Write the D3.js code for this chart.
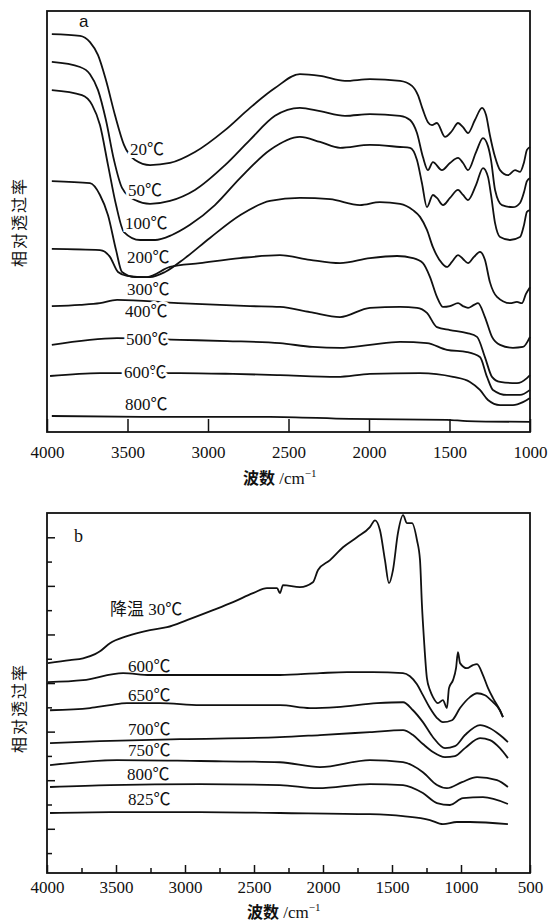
<!DOCTYPE html>
<html>
<head>
<meta charset="utf-8">
<script src="https://cdn.jsdelivr.net/npm/d3@7"></script>
<style>
    body { margin: 0; background: #fff; }
    .tick text { font-family: "Liberation Serif", serif; font-size: 17px; fill: #111; }
    .curve-label { font-family: "Liberation Serif", "Noto Sans CJK SC", serif; font-size: 17px; fill: #111; }
    .axis-title { font-size: 16px; fill: #111; }
    .y-title { font-family: "Noto Sans CJK SC", sans-serif; font-size: 16px; letter-spacing: 2px; fill: #111; }
</style>
</head>
<body>
<svg id="spectra"></svg>
<script>
// Panel a: spectra while heating, [wavenumber cm-1, relative transmittance]
const a20 = [[3970, 94.5], [3795, 94.1], [3733, 92.6], [3683, 89.5], [3634, 83.6], [3578, 75.3], [3522, 68.2], [3453, 64.6], [3360, 63.4], [3236, 63.9], [3081, 66.5], [2894, 71.7], [2739, 77.0], [2584, 81.7], [2429, 85.0], [2304, 84.6], [2149, 83.4], [1994, 83.8], [1807, 83.4], [1733, 82.2], [1696, 80.0], [1665, 76.5], [1634, 73.6], [1609, 72.9], [1578, 73.4], [1528, 70.1], [1485, 71.5], [1447, 73.4], [1416, 72.4], [1385, 71.0], [1342, 74.1], [1298, 77.0], [1273, 75.3], [1249, 70.5], [1217, 65.3], [1186, 62.2], [1137, 61.0], [1093, 62.2], [1062, 61.8], [1037, 64.1], [1019, 67.0], [1000, 67.7]];
const a50 = [[3970, 87.9], [3795, 86.7], [3733, 85.0], [3683, 81.2], [3634, 74.1], [3584, 64.6], [3534, 58.0], [3453, 55.1], [3360, 54.2], [3236, 54.9], [3081, 57.5], [2894, 63.4], [2739, 69.4], [2584, 75.1], [2429, 77.0], [2304, 76.2], [2149, 75.1], [1994, 75.5], [1807, 75.1], [1745, 74.1], [1702, 71.0], [1665, 65.3], [1634, 62.2], [1603, 64.1], [1547, 62.2], [1497, 63.9], [1447, 65.1], [1416, 63.9], [1385, 62.2], [1335, 66.5], [1292, 69.8], [1261, 67.9], [1242, 64.6], [1217, 57.5], [1174, 53.9], [1106, 53.4], [1062, 54.4], [1037, 57.0], [1019, 59.6], [1000, 60.3]];
const a100 = [[3970, 81.2], [3783, 80.0], [3720, 77.7], [3671, 72.9], [3621, 63.4], [3571, 53.9], [3522, 47.5], [3422, 45.6], [3329, 45.6], [3224, 46.8], [3112, 49.2], [2957, 53.9], [2801, 60.3], [2615, 67.0], [2429, 70.1], [2304, 68.9], [2180, 67.5], [1994, 68.2], [1807, 67.7], [1745, 67.5], [1702, 64.6], [1671, 59.1], [1640, 53.4], [1603, 56.3], [1578, 55.6], [1540, 53.9], [1497, 55.6], [1447, 57.5], [1416, 56.3], [1385, 55.1], [1335, 58.7], [1292, 62.7], [1261, 60.6], [1242, 56.3], [1217, 49.6], [1186, 46.3], [1124, 45.6], [1062, 46.3], [1037, 49.2], [1019, 52.3], [1000, 52.7]];
const a200 = [[3970, 59.6], [3733, 59.1], [3671, 56.3], [3621, 51.5], [3571, 43.2], [3534, 38.0], [3453, 36.8], [3360, 36.8], [3267, 38.0], [3143, 41.3], [2988, 46.1], [2801, 51.5], [2615, 54.9], [2429, 55.6], [2242, 55.3], [2056, 53.9], [1932, 54.6], [1807, 54.2], [1727, 52.7], [1683, 51.1], [1640, 48.0], [1603, 43.9], [1547, 40.1], [1516, 39.2], [1485, 40.4], [1447, 42.0], [1416, 41.1], [1385, 40.1], [1348, 41.6], [1311, 42.8], [1280, 40.9], [1249, 35.6], [1205, 32.1], [1124, 30.6], [1081, 30.9], [1050, 30.6], [1025, 32.8], [1000, 34.4]];
const a300 = [[3970, 43.5], [3671, 43.2], [3609, 41.6], [3559, 38.0], [3503, 37.1], [3379, 36.8], [3236, 39.2], [3050, 40.1], [2801, 41.3], [2553, 42.0], [2367, 40.9], [2180, 40.1], [1994, 41.3], [1826, 41.8], [1727, 41.3], [1665, 40.1], [1621, 36.8], [1578, 32.1], [1540, 29.7], [1497, 29.9], [1447, 30.6], [1416, 29.9], [1385, 29.5], [1348, 30.2], [1323, 30.6], [1280, 27.3], [1236, 22.6], [1186, 20.7], [1106, 20.0], [1044, 20.2], [1000, 22.6]];
const a400 = [[3970, 29.9], [3795, 30.2], [3671, 30.6], [3565, 31.4], [3186, 30.6], [2739, 29.9], [2553, 29.7], [2367, 28.5], [2180, 27.3], [1994, 29.5], [1807, 29.7], [1702, 29.5], [1640, 28.3], [1578, 24.9], [1497, 24.2], [1391, 23.5], [1329, 22.6], [1280, 17.8], [1236, 13.1], [1186, 11.9], [1081, 11.6], [1019, 12.8], [1000, 13.5]];
const a500 = [[3970, 20.7], [3565, 22.3], [3174, 21.9], [2882, 21.6], [2553, 21.1], [2348, 20.2], [2180, 20.0], [1994, 20.7], [1807, 21.4], [1640, 21.1], [1516, 19.5], [1391, 19.0], [1311, 17.8], [1267, 13.1], [1230, 10.0], [1143, 8.8], [1062, 8.8], [1000, 10.0]];
const a600 = [[3981, 13.3], [3671, 14.0], [3565, 14.0], [3174, 14.0], [2845, 13.8], [2553, 13.5], [2199, 13.1], [1994, 13.8], [1683, 14.0], [1478, 13.1], [1373, 11.9], [1311, 10.0], [1261, 7.6], [1186, 6.4], [1106, 6.4], [1044, 7.1], [1000, 8.1]];
const a800 = [[3970, 3.8], [3360, 3.6], [2615, 3.6], [2118, 3.1], [1516, 2.9], [1391, 2.6], [1000, 2.4]];

const seriesA = [a20, a50, a100, a200, a300, a400, a500, a600, a800];
const labelsA = ["20℃", "50℃", "100℃", "200℃", "300℃", "400℃", "500℃", "600℃", "800℃"];
const labelAnchorsA = [[3485, 65.8], [3497, 56.1], [3516, 48.2], [3503, 40.1], [3503, 32.5], [3516, 27.3], [3509, 20.7], [3522, 12.8], [3516, 5.2]];
const ticksA = [4000, 3500, 3000, 2500, 2000, 1500, 1000];

// Panel b: cooled sample and spectra at high temperature
const b30 = [[3993, 7.82], [3833, 7.94], [3739, 8.02], [3652, 8.19], [3616, 8.31], [3544, 8.64], [3420, 8.93], [3254, 9.18], [3130, 9.30], [2986, 9.59], [2797, 10.0], [2652, 10.33], [2507, 10.70], [2406, 10.91], [2333, 10.91], [2312, 10.70], [2290, 11.03], [2167, 10.95], [2073, 11.15], [2036, 11.65], [1949, 12.06], [1855, 12.59], [1754, 13.0], [1660, 13.42], [1623, 13.70], [1587, 13.29], [1551, 12.06], [1522, 11.11], [1493, 11.65], [1457, 13.17], [1420, 13.91], [1391, 13.58], [1355, 13.58], [1319, 12.88], [1297, 12.06], [1283, 10.21], [1268, 8.77], [1247, 7.20], [1225, 6.71], [1203, 6.42], [1167, 6.17], [1131, 6.30], [1102, 5.97], [1087, 6.79], [1058, 7.12], [1036, 7.61], [1022, 8.27], [1007, 7.82], [957, 7.61], [913, 7.74], [884, 7.78], [841, 7.33], [804, 6.79], [768, 6.38], [718, 5.88], [696, 5.60]];
const b600 = [[3993, 7.04], [3739, 7.12], [3449, 7.41], [3254, 7.33], [2891, 7.33], [2312, 7.33], [2022, 7.41], [1826, 7.45], [1638, 7.45], [1420, 7.41], [1370, 7.28], [1319, 6.95], [1276, 6.50], [1225, 5.97], [1174, 5.56], [1131, 5.39], [1065, 5.47], [1007, 5.97], [935, 6.42], [884, 6.58], [826, 6.50], [768, 6.21], [718, 5.88], [696, 5.60]];
const b650 = [[3978, 5.88], [3688, 5.97], [3544, 6.09], [3420, 6.17], [3181, 6.17], [2891, 6.09], [2312, 6.09], [2094, 5.97], [1899, 6.01], [1609, 6.17], [1420, 6.21], [1348, 5.88], [1276, 5.39], [1203, 4.77], [1116, 4.32], [1044, 4.40], [971, 4.86], [862, 5.27], [790, 5.14], [718, 4.86], [660, 4.57]];
const b700 = [[3978, 4.53], [3616, 4.61], [3036, 4.69], [2312, 4.77], [2022, 4.86], [1660, 4.98], [1420, 5.06], [1348, 4.86], [1276, 4.49], [1203, 4.16], [1116, 3.95], [1044, 3.99], [971, 4.32], [862, 4.73], [790, 4.65], [718, 4.32], [660, 3.91]];
const b750 = [[3978, 3.62], [3493, 3.83], [2891, 3.79], [2312, 3.74], [2022, 3.54], [1660, 3.83], [1420, 3.74], [1276, 3.33], [1174, 2.80], [1102, 2.67], [993, 2.92], [884, 3.13], [739, 3.00], [660, 2.72]];
const b800 = [[3978, 2.72], [3544, 2.80], [2891, 2.84], [2312, 2.80], [2036, 2.67], [1660, 2.84], [1420, 2.80], [1276, 2.47], [1174, 2.06], [1080, 1.98], [986, 2.26], [841, 2.30], [660, 2.02]];
const b825 = [[3978, 1.65], [3544, 1.69], [2891, 1.69], [2312, 1.65], [1660, 1.60], [1420, 1.52], [1225, 1.36], [1131, 1.19], [1029, 1.28], [935, 1.28], [660, 1.19]];

const seriesB = [b30, b600, b650, b700, b750, b800, b825];
const labelsB = ["降温 30℃", "600℃", "650℃", "700℃", "750℃", "800℃", "825℃"];
const labelAnchorsB = [[3544, 9.79], [3413, 7.45], [3413, 6.26], [3413, 4.86], [3413, 3.99], [3420, 3.00], [3413, 1.98]];
const ticksB = [4000, 3500, 3000, 2500, 2000, 1500, 1000, 500];
const minorTicksB = [3750, 3250, 2750, 2250, 1750, 1250, 750];
const yTicksB = [0, 1, 2, 3, 4, 5, 6, 7, 8, 9, 10, 11, 12, 13];

// SVG setup

const width = 548, height = 923;
const ink = "#111";

const svg = d3.select("svg#spectra")
    .attr("width", width)
    .attr("height", height)
    .attr("viewBox", `0 0 ${width} ${height}`)
    .style("background-color", "#fff");

// Scales

const xA = d3.scaleLinear().domain([4000, 1000]).range([47, 530]);
const yA = d3.scaleLinear().domain([0, 100]).range([432, 11]);
const xB = d3.scaleLinear().domain([4000, 500]).range([47, 530]);
const yB = d3.scaleLinear().domain([-0.82, 14]).range([873, 513]);

function frame(x, y) {
    svg.append("rect")
        .attr("x", x.range()[0])
        .attr("y", y.range()[1])
        .attr("width", x.range()[1] - x.range()[0])
        .attr("height", y.range()[0] - y.range()[1])
        .attr("fill", "none")
        .attr("stroke", ink)
        .attr("stroke-width", 1.8);
}

function curves(series, x, y) {
    const line = d3.line()
        .x(d => x(d[0]))
        .y(d => y(d[1]))
        .curve(d3.curveMonotoneX);
    series.forEach(s => {
        svg.append("path")
            .datum(s)
            .attr("fill", "none")
            .attr("stroke", ink)
            .attr("stroke-width", 1.8)
            .attr("stroke-linejoin", "round")
            .attr("d", line);
    });
}

function curveLabels(labels, anchors, x, y, halo) {
    labels.forEach((t, i) => {
        const txt = svg.append("text")
            .attr("class", "curve-label")
            .attr("x", x(anchors[i][0]))
            .attr("y", y(anchors[i][1]))
            .text(t);
        if (halo) {
            txt.attr("stroke", "#fff")
                .attr("stroke-width", 6)
                .style("paint-order", "stroke");
        }
    });
}

function xTitle(xPos, yPos) {
    const t = svg.append("text")
        .attr("class", "axis-title")
        .attr("x", xPos)
        .attr("y", yPos);
    t.append("tspan")
        .style("font-family", "Noto Sans CJK SC, sans-serif")
        .style("font-weight", 700)
        .text("波数");
    t.append("tspan")
        .style("font-family", "Liberation Serif, serif")
        .style("font-size", "17px")
        .text(" /cm");
    t.append("tspan")
        .style("font-family", "Liberation Serif, serif")
        .style("font-size", "11px")
        .attr("dy", -7)
        .text("−1");
}

function yTitle(xPos, yPos) {
    svg.append("text")
        .attr("class", "y-title")
        .attr("transform", `translate(${xPos},${yPos}) rotate(-90)`)
        .attr("text-anchor", "middle")
        .attr("dominant-baseline", "central")
        .text("相对透过率");
}

// Panel a

frame(xA, yA);
curves(seriesA, xA, yA);
curveLabels(labelsA, labelAnchorsA, xA, yA, true);

svg.append("g")
    .attr("transform", `translate(0,${yA.range()[0]})`)
    .call(d3.axisBottom(xA).tickValues(ticksA).tickSizeInner(-13).tickSizeOuter(0).tickPadding(14).tickFormat(d3.format("d")))
    .call(g => g.select(".domain").remove())
    .call(g => g.selectAll(".tick line").attr("stroke", ink).attr("stroke-width", 1.5));

svg.append("text")
    .attr("x", 79)
    .attr("y", 27)
    .style("font-family", "Liberation Sans, sans-serif")
    .style("font-size", "17px")
    .attr("fill", ink)
    .text("a");

xTitle(243, 484);
yTitle(18, 222);

// Panel b

frame(xB, yB);
curves(seriesB, xB, yB);
curveLabels(labelsB, labelAnchorsB, xB, yB, false);

svg.append("g")
    .attr("transform", `translate(0,${yB.range()[0]})`)
    .call(d3.axisBottom(xB).tickValues(ticksB).tickSizeInner(-8).tickSizeOuter(0).tickPadding(8).tickFormat(d3.format("d")))
    .call(g => g.select(".domain").remove())
    .call(g => g.selectAll(".tick line").attr("stroke", ink).attr("stroke-width", 1.5));

svg.append("g")
    .attr("transform", `translate(0,${yB.range()[0]})`)
    .call(d3.axisBottom(xB).tickValues(minorTicksB).tickSizeInner(-5).tickSizeOuter(0).tickFormat(""))
    .call(g => g.select(".domain").remove())
    .call(g => g.selectAll(".tick line").attr("stroke", ink).attr("stroke-width", 1.5));

svg.append("g")
    .attr("transform", `translate(${xB.range()[0]},0)`)
    .call(d3.axisLeft(yB).tickValues(yTicksB).tickSizeOuter(0).tickFormat(""))
    .call(g => g.select(".domain").remove())
    .call(g => g.selectAll(".tick line")
        .attr("x2", d => d % 2 ? 8 : 5)
        .attr("stroke", ink)
        .attr("stroke-width", 1.5));

svg.append("text")
    .attr("x", 74)
    .attr("y", 542)
    .style("font-family", "Liberation Serif, serif")
    .style("font-size", "18px")
    .attr("fill", ink)
    .text("b");

xTitle(247, 918);
yTitle(18, 708);
</script>
</body>
</html>
